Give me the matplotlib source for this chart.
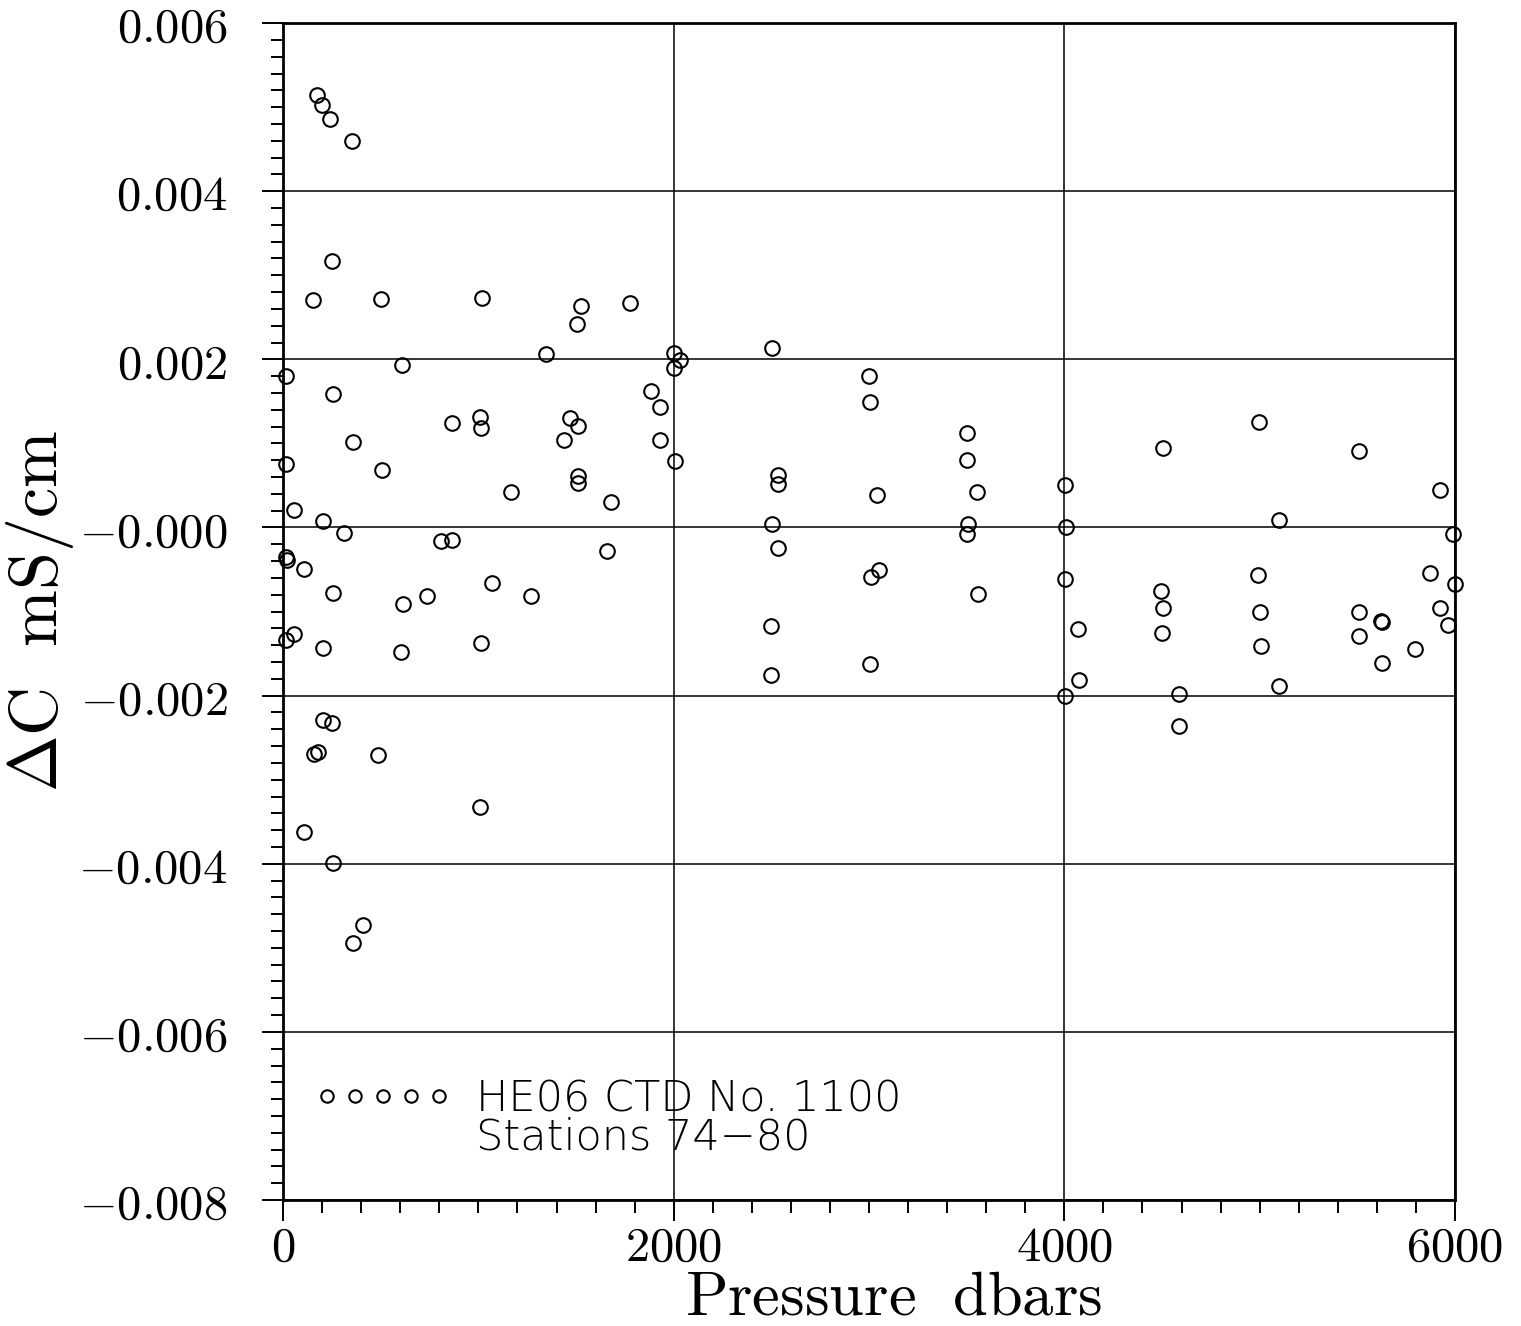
import matplotlib

matplotlib.use("Agg")
import matplotlib.pyplot as plt
from matplotlib.lines import Line2D
from matplotlib.ticker import MultipleLocator

plt.rcParams["mathtext.fontset"] = "cm"

# conductivity residuals, HE06 CTD No. 1100, stations 74-80
pressure = [
    174, 197, 242, 355, 252, 152, 503, 1016, 1345, 1524, 1505, 1775, 1999, 2034,
    1999, 611, 14, 257, 1885, 1932, 1930, 2006, 863, 1008, 1013, 358, 1470, 1509,
    1440, 15, 507, 1510, 1510, 1167, 1679, 55, 203, 310, 809, 866, 1657, 15, 19,
    107, 1069, 256, 1270, 738, 612, 58, 15, 1011, 207, 604, 204, 250, 159, 180,
    484, 1007, 108, 255, 408, 359,
    2502, 2536, 2535, 2502, 2532, 2498, 2500,
    3002, 3006, 3042, 3052, 3009, 3005,
    3500, 3502, 3555, 3508, 3504, 3556,
    4005, 4006, 4004, 4072, 4073, 4003,
    4503, 4496, 4504, 4502, 4589, 4587,
    4995, 5098, 4993, 5004, 5006, 5098,
    5507, 5508, 5508, 5619, 5625, 5624, 5796,
    5925, 5991, 5870, 6000, 5922, 5964,
]
delta_c = [
    0.00514, 0.00503, 0.00486, 0.00460, 0.00317, 0.00271, 0.00272, 0.00273,
    0.00206, 0.00264, 0.00242, 0.00267, 0.00207, 0.00199, 0.00190, 0.00193,
    0.00180, 0.00159, 0.00162, 0.00143, 0.00104, 0.00079, 0.00124, 0.00132,
    0.00118, 0.00102, 0.00130, 0.00121, 0.00104, 0.00076, 0.00068, 0.00061,
    0.00053, 0.00042, 0.00030, 0.00021, 0.00008, -0.00007, -0.00016, -0.00015,
    -0.00028, -0.00035, -0.00039, -0.00049, -0.00066, -0.00078, -0.00081,
    -0.00082, -0.00091, -0.00127, -0.00134, -0.00138, -0.00143, -0.00148,
    -0.00229, -0.00233, -0.00269, -0.00267, -0.00271, -0.00333, -0.00362,
    -0.00399, -0.00473, -0.00494,
    0.00214, 0.00063, 0.00052, 0.00004, -0.00024, -0.00117, -0.00175,
    0.00180, 0.00149, 0.00039, -0.00051, -0.00059, -0.00162,
    0.00112, 0.00080, 0.00042, 0.00004, -0.00008, -0.00079,
    0.00050, 0.00000, -0.00061, -0.00121, -0.00181, -0.00200,
    0.00095, -0.00076, -0.00096, -0.00126, -0.00198, -0.00236,
    0.00125, 0.00009, -0.00056, -0.00100, -0.00141, -0.00189,
    0.00091, -0.00101, -0.00129, -0.00111, -0.00112, -0.00161, -0.00144,
    0.00045, -0.00008, -0.00054, -0.00067, -0.00096, -0.00116,
]

x_ticks = [0, 2000, 4000, 6000]
x_labels = ["0", "2000", "4000", "6000"]
y_ticks = [0.006, 0.004, 0.002, 0.0, -0.002, -0.004, -0.006, -0.008]
y_labels = ["0.006", "0.004", "0.002", "-0.000", "-0.002", "-0.004", "-0.006", "-0.008"]
legend_lines = ["HE06 CTD No. 1100", "Stations 74\u221280"]

fig = plt.figure(figsize=(15.21, 13.26), dpi=100)
ax = fig.add_axes([0.1861, 0.0950, 0.7705, 0.8876])

ax.plot(pressure, delta_c, "o", ls="none", mfc="none", mec="black", ms=10.5,
        mew=1.5, clip_on=False, zorder=3, label=legend_lines[0])

ax.set_xlim(0, 6000)
ax.set_ylim(-0.008, 0.006)
ax.set_xticks(x_ticks, labels=[f"${s}$" for s in x_labels])
ax.set_yticks(y_ticks, labels=[f"${s}$" for s in y_labels])
ax.xaxis.set_minor_locator(MultipleLocator(200))
ax.yaxis.set_minor_locator(MultipleLocator(0.0002))
ax.tick_params(which="major", direction="out", length=15, width=1.4, labelsize=35)
ax.tick_params(which="minor", direction="out", length=9, width=1.4)
ax.tick_params(axis="y", which="major", pad=25)
ax.tick_params(axis="x", which="major", pad=1)
ax.grid(True, which="major", color="black", lw=1.1)
for sp in ax.spines.values():
    sp.set_linewidth(2)

ax.set_xlabel(r"$\mathrm{Pressure\ \ dbars}$", fontsize=45)
ax.xaxis.set_label_coords(0.521, -0.057)
ax.xaxis.label.set_va("top")
ax.set_ylabel(r"$\Delta\mathrm{C\ \ mS/cm}$", fontsize=49)
ax.yaxis.set_label_coords(-0.177, 0.5)

blank = Line2D([], [], ls="none")
handles = [ax.lines[0], blank]
ax.legend(handles, legend_lines, loc="upper left", bbox_to_anchor=(0.0265, 0.1033),
          numpoints=5, markerscale=0.85, frameon=False, borderpad=0,
          borderaxespad=0, handlelength=3.2, handletextpad=0.56,
          labelspacing=-0.08, prop={"family": "DejaVu Sans", "weight": 200, "size": 31})

fig.savefig("out.png", dpi=100)
